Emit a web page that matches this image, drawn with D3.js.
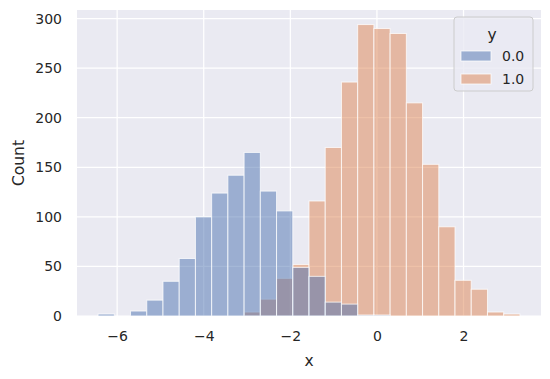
<!DOCTYPE html>
<html>
<head>
<meta charset="utf-8">
<script src="https://cdn.jsdelivr.net/npm/d3@7"></script>
<style>
  html, body { margin: 0; padding: 0; background: #ffffff; }
  svg { display: block; }
  text { font-family: "DejaVu Sans", sans-serif; fill: #262626; }
</style>
</head>
<body>
<svg id="chart" width="550" height="379"></svg>
<script>
// ---- data ----
const binStart = -6.44;
const binWidth = 0.3747;
const hueLevels = ["0.0", "1.0"];
const counts0 = [2, 0, 5, 16, 35, 58, 100, 124, 142, 165, 126, 106, 49, 40, 14, 12, 1, 1, 0, 0, 0, 0, 0, 0, 0, 0];
const counts1 = [0, 0, 0, 0, 0, 0, 0, 0, 0, 4, 17, 38, 52, 116, 170, 236, 294, 290, 285, 215, 153, 90, 36, 27, 4, 2];
const xTicks = [-6, -4, -2, 0, 2];
const yTicks = [0, 50, 100, 150, 200, 250, 300];
const colors = ["#4c72b0", "#dd8452"];

// ---- layout ----
const W = 550, H = 379;
const margin = { left: 77, right: 9, top: 10, bottom: 63 };
const iw = W - margin.left - margin.right;
const ih = H - margin.top - margin.bottom;

const nBins = counts0.length;
const binEnd = binStart + nBins * binWidth;
const pad = 0.05 * (binEnd - binStart);
const x = d3.scaleLinear().domain([binStart - pad, binEnd + pad]).range([0, iw]);
const yMax = d3.max(counts0.concat(counts1));
const y = d3.scaleLinear().domain([0, yMax * 1.05]).range([ih, 0]);

const svg = d3.select("#chart");
const g = svg.append("g").attr("transform", `translate(${margin.left},${margin.top})`);

g.append("rect").attr("width", iw).attr("height", ih).attr("fill", "#eaeaf2");

// grid
g.append("g").selectAll("line").data(yTicks).join("line")
  .attr("x1", 0).attr("x2", iw)
  .attr("y1", d => y(d)).attr("y2", d => y(d))
  .attr("stroke", "#ffffff").attr("stroke-width", 1.25);
g.append("g").selectAll("line").data(xTicks).join("line")
  .attr("y1", 0).attr("y2", ih)
  .attr("x1", d => x(d)).attr("x2", d => x(d))
  .attr("stroke", "#ffffff").attr("stroke-width", 1.25);

// bars: orange first, blue on top
const series = [
  { level: hueLevels[1], color: colors[1], counts: counts1 },
  { level: hueLevels[0], color: colors[0], counts: counts0 }
];
series.forEach(s => {
  g.append("g").selectAll("rect").data(s.counts).join("rect")
    .attr("x", (d, i) => x(binStart + i * binWidth))
    .attr("width", (d, i) => x(binStart + (i + 1) * binWidth) - x(binStart + i * binWidth))
    .attr("y", d => y(d))
    .attr("height", d => y(0) - y(d))
    .attr("fill", s.color).attr("fill-opacity", 0.5)
    .attr("stroke", "#ffffff").attr("stroke-opacity", 0.75).attr("stroke-width", 1);
});

// axes
const xAxis = d3.axisBottom(x).tickValues(xTicks).tickSize(0).tickPadding(15)
  .tickFormat(d => d3.format("")(d).replace("-", "\u2212"));
const xg = g.append("g").attr("transform", `translate(0,${ih})`).call(xAxis);
xg.select(".domain").remove();
xg.selectAll("text").attr("font-size", 14).attr("font-family", "DejaVu Sans").attr("fill", "#262626");

const yAxis = d3.axisLeft(y).tickValues(yTicks).tickSize(0).tickPadding(15);
const yg = g.append("g").call(yAxis);
yg.select(".domain").remove();
yg.selectAll("text").attr("font-size", 14).attr("font-family", "DejaVu Sans").attr("fill", "#262626");

// axis labels
svg.append("text")
  .attr("x", margin.left + iw / 2).attr("y", 366)
  .attr("text-anchor", "middle").attr("font-size", 15.5).text("x");
svg.append("text")
  .attr("transform", `translate(24,${margin.top + ih / 2}) rotate(-90)`)
  .attr("text-anchor", "middle").attr("font-size", 15.5).text("Count");

// legend
const lg = svg.append("g").attr("transform", "translate(454,17)");
lg.append("rect").attr("width", 79).attr("height", 74).attr("rx", 3)
  .attr("fill", "#eaeaf2").attr("fill-opacity", 0.8)
  .attr("stroke", "#cccccc").attr("stroke-width", 1);
lg.append("text").attr("x", 38).attr("y", 23).attr("text-anchor", "middle")
  .attr("font-size", 15.5).text("y");
hueLevels.forEach((lvl, i) => {
  lg.append("rect").attr("x", 7).attr("y", 34 + i * 23).attr("width", 30).attr("height", 10)
    .attr("fill", colors[i]).attr("fill-opacity", 0.5)
    .attr("stroke", "#ffffff").attr("stroke-opacity", 0.75);
  lg.append("text").attr("x", 48).attr("y", 44 + i * 23)
    .attr("font-size", 14).text(lvl);
});
</script>
</body>
</html>
